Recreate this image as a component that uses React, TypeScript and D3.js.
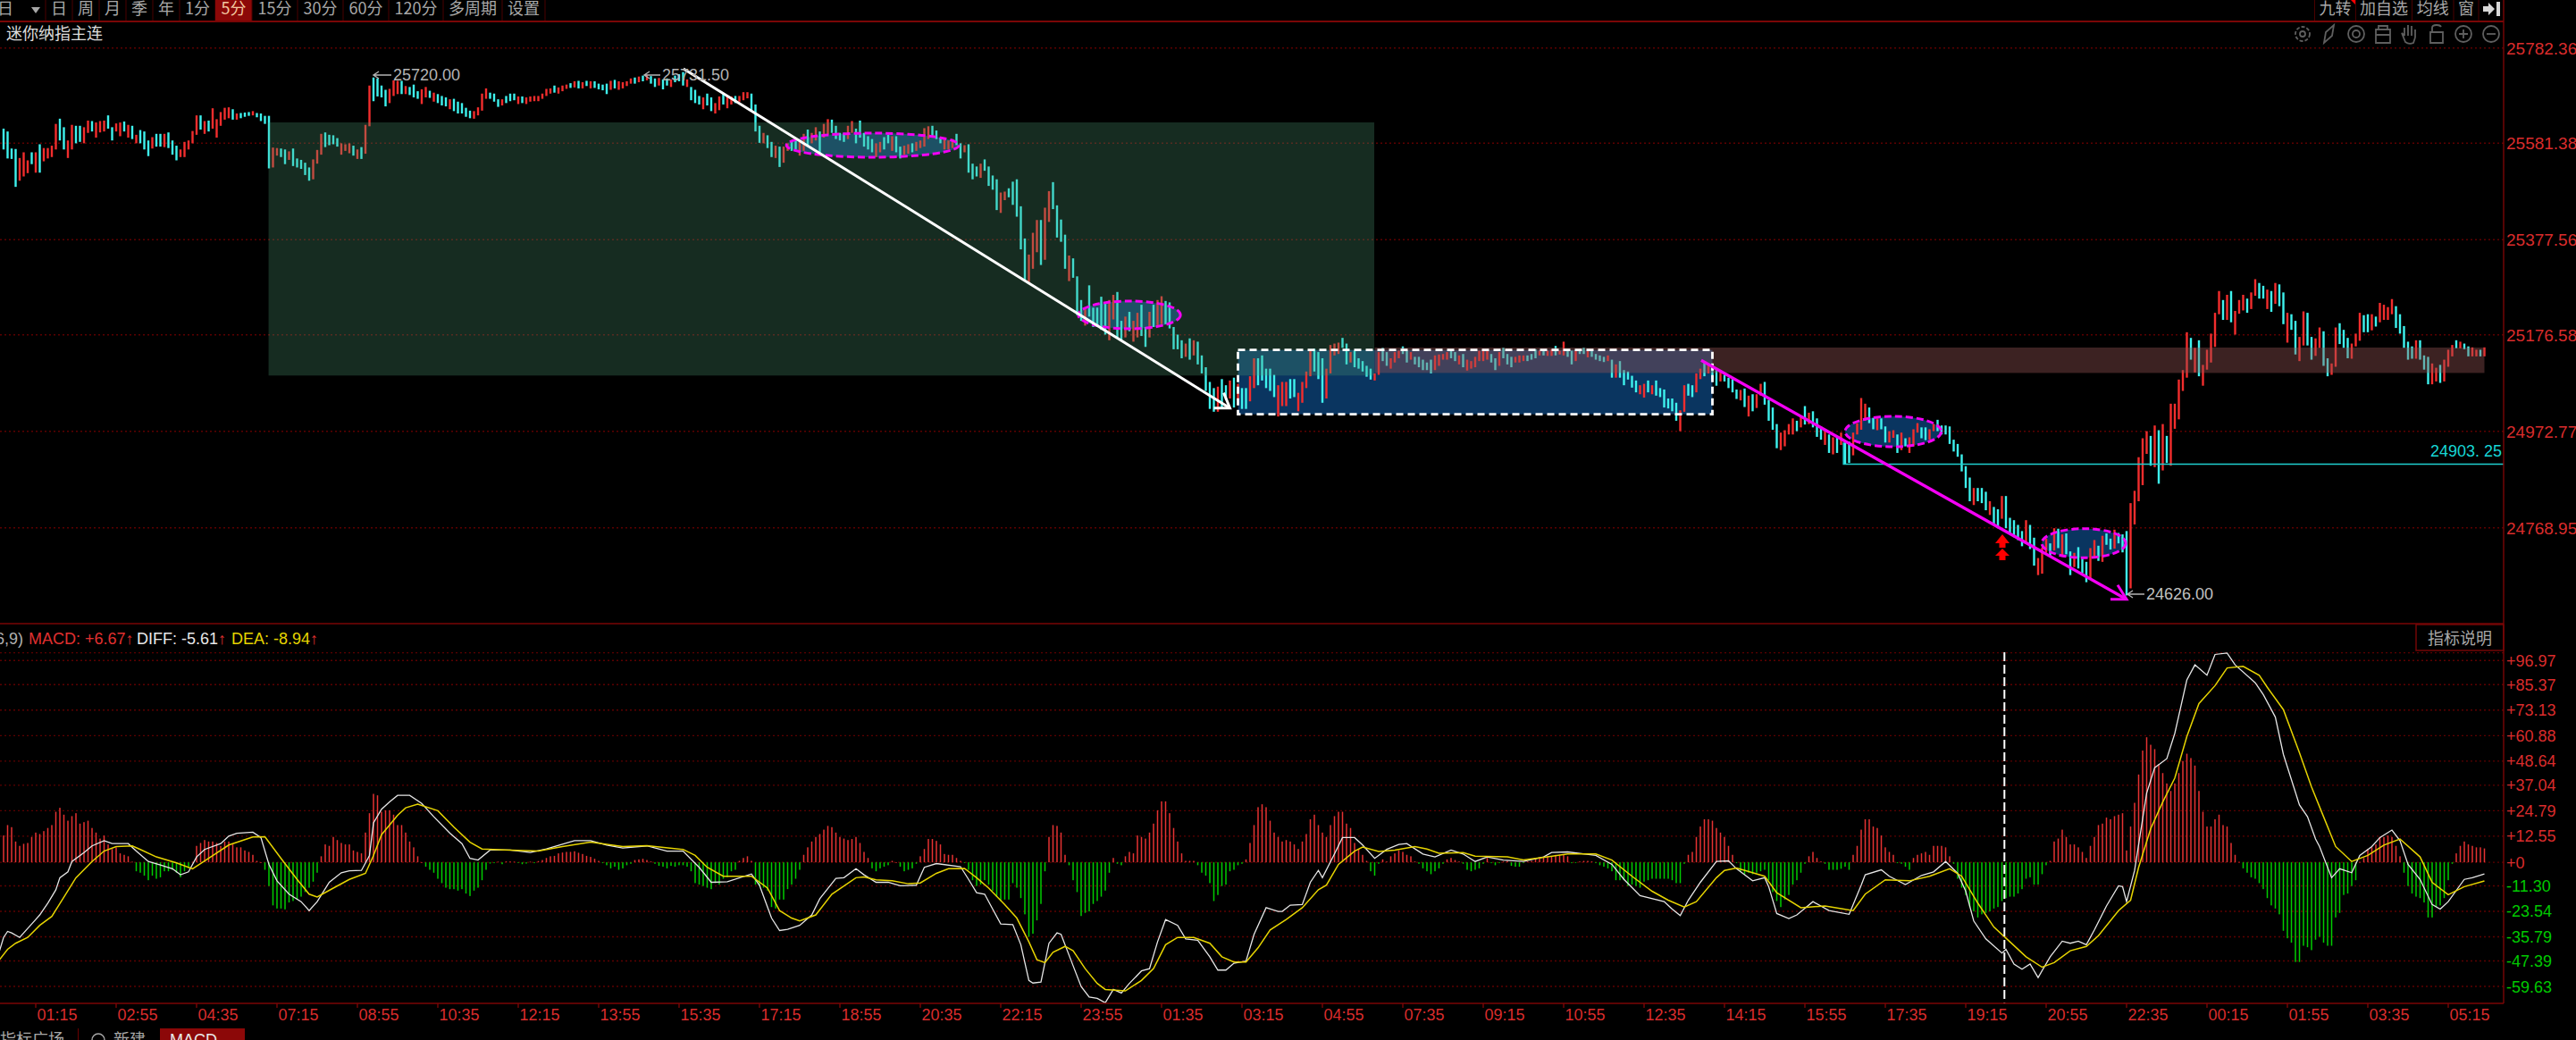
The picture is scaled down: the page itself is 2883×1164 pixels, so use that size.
import React from "react";
import * as d3 from "d3";

// ---------- candle data, index = 5-minute bar ----------
const highs: number[] = [
25612,25606,25570,25569,25550,25562,25545,25562,25562,25579,
25571,25571,25576,25622,25633,25615,25587,25620,25618,25618,
25615,25629,25628,25625,25628,25629,25640,25615,25623,25625,
25627,25620,25618,25599,25609,25606,25587,25594,25601,25601,
25601,25604,25587,25576,25568,25584,25587,25607,25640,25640,
25628,25629,25655,25632,25647,25656,25657,25653,25644,25645,
25646,25647,25649,25645,25644,25639,25639,25572,25571,25570,
25568,25564,25570,25549,25546,25540,25530,25547,25567,25601,
25604,25599,25598,25592,25581,25579,25581,25576,25568,25573,
25620,25703,25720,25718,25703,25694,25696,25714,25713,25713,
25702,25700,25705,25691,25695,25700,25692,25688,25685,25681,
25678,25674,25675,25669,25666,25656,25650,25649,25657,25686,
25697,25688,25686,25674,25674,25681,25686,25686,25680,25680,
25678,25680,25681,25681,25686,25696,25697,25703,25699,25703,
25705,25708,25712,25713,25710,25713,25712,25712,25707,25705,
25707,25713,25715,25712,25710,25712,25718,25720,25722,25724,
25725,25723,25718,25719,25716,25718,25716,25724,25727,25731.5,
25716,25700,25694,25681,25678,25686,25678,25666,25680,25685,
25681,25680,25681,25681,25689,25689,25686,25663,25618,25603,
25598,25584,25576,25574,25574,25581,25587,25587,25587,25601,
25610,25603,25615,25606,25622,25632,25631,25618,25603,25603,
25618,25628,25612,25629,25603,25596,25590,25581,25584,25594,
25599,25596,25596,25574,25576,25579,25581,25584,25587,25613,
25617,25618,25608,25593,25592,25587,25590,25601,25581,25577,
25579,25538,25532,25538,25547,25532,25513,25505,25477,25479,
25486,25500,25505,25448,25380,25346,25392,25419,25419,25445,
25480,25499,25450,25420,25388,25344,25338,25300,25250,25231,
25281,25234,25234,25257,25244,25250,25261,25267,25206,25215,
25225,25206,25223,25240,25193,25225,25240,25250,25258,25248,
25245,25193,25177,25165,25158,25169,25165,25162,25133,25108,
25077,25064,25067,25083,25070,25080,25086,25073,25064,25064,
25089,25127,25127,25133,25105,25105,25092,25070,25077,25077,
25083,25083,25054,25077,25099,25143,25147,25140,25127,25105,
25155,25158,25160,25170,25158,25140,25143,25127,25121,25111,
25105,25095,25140,25149,25140,25127,25140,25143,25152,25143,
25140,25130,25130,25124,25118,25124,25133,25135,25136,25140,
25143,25140,25133,25136,25124,25121,25130,25143,25146,25143,
25136,25127,25140,25149,25136,25130,25130,25133,25133,25133,
25136,25146,25143,25143,25143,25146,25153,25143,25162,25143,
25143,25143,25146,25149,25143,25143,25136,25133,25130,25133,
25124,25114,25121,25102,25099,25090,25080,25070,25073,25080,
25070,25080,25064,25061,25042,25042,25033,25017,25070,25073,
25070,25095,25105,25118,25114,25108,25102,25102,25092,25086,
25083,25061,25060,25063,25048,25051,25051,25073,25077,25039,
25023,24988,24970,24975,24988,25000,24995,25004,25026,25012,
25015,25000,24983,24973,24966,24960,24963,24970,24949,24951,
24970,24990,25043,25031,25023,25001,25000,25000,24983,24973,
24975,24966,24970,24958,24960,24977,24990,24981,24981,24977,
24988,24997,24985,24985,24983,24955,24946,24924,24899,24875,
24853,24853,24853,24845,24825,24813,24808,24836,24836,24790,
24785,24775,24762,24785,24775,24748,24705,24727,24746,24736,
24768,24767,24755,24757,24719,24716,24728,24704,24697,24726,
24743,24731,24752,24757,24746,24765,24758,24755,24762,24821,
24847,24918,24958,24973,24963,24985,24975,24988,24963,25031,
25031,25082,25102,25182,25170,25149,25165,25113,25145,25179,
25223,25269,25250,25261,25269,25227,25250,25261,25253,25266,
25294,25286,25280,25272,25269,25286,25283,25266,25223,25220,
25206,25172,25226,25223,25172,25169,25192,25184,25127,25116,
25192,25201,25187,25170,25158,25179,25223,25218,25220,25220,
25215,25244,25240,25235,25252,25237,25220,25195,25162,25152,
25165,25165,25133,25130,25116,25107,25113,25124,25145,25155,
25165,25162,25158,25152,25150,25145,25145,25150];

const lows: number[] = [
25568,25549,25548,25489,25502,25511,25518,25537,25519,25519,
25543,25549,25552,25568,25587,25568,25550,25568,25581,25584,
25581,25603,25606,25593,25604,25606,25612,25587,25606,25596,
25606,25593,25590,25581,25581,25568,25554,25570,25574,25574,
25573,25571,25557,25545,25552,25552,25568,25581,25599,25610,
25601,25606,25612,25593,25618,25631,25634,25631,25631,25634,
25637,25639,25640,25636,25628,25622,25528,25530,25555,25552,
25537,25546,25533,25530,25527,25514,25502,25505,25538,25557,
25573,25577,25579,25574,25557,25565,25560,25555,25548,25548,
25559,25617,25670,25680,25678,25659,25666,25681,25685,25685,
25685,25683,25678,25675,25664,25678,25677,25669,25666,25661,
25659,25653,25649,25644,25644,25637,25634,25633,25640,25650,
25675,25675,25669,25658,25661,25666,25670,25672,25664,25666,
25664,25669,25670,25670,25675,25681,25686,25688,25686,25691,
25696,25698,25699,25697,25697,25702,25697,25698,25695,25693,
25685,25694,25697,25694,25697,25702,25707,25707,25710,25712,
25714,25707,25700,25703,25695,25703,25700,25710,25712,25703,
25700,25672,25666,25663,25653,25661,25649,25644,25651,25663,
25655,25663,25666,25669,25672,25676,25650,25606,25582,25581,
25571,25552,25550,25531,25540,25565,25565,25568,25555,25565,
25574,25581,25587,25559,25593,25599,25603,25590,25587,25584,
25590,25603,25581,25593,25574,25568,25562,25552,25562,25568,
25581,25565,25562,25549,25557,25559,25562,25565,25571,25574,
25590,25593,25590,25581,25568,25568,25571,25577,25549,25562,
25519,25505,25511,25508,25523,25491,25483,25440,25434,25461,
25467,25451,25426,25357,25291,25288,25316,25351,25324,25335,
25415,25442,25382,25373,25316,25290,25297,25218,25206,25196,
25215,25193,25193,25187,25177,25165,25209,25171,25165,25171,
25184,25162,25171,25174,25151,25171,25193,25193,25199,25199,
25190,25146,25146,25127,25130,25124,25133,25114,25095,25058,
25020,25014,25014,25020,25039,25042,25023,25039,25020,25020,
25036,25064,25070,25080,25064,25058,25045,25004,25026,25026,
25042,25045,25015,25033,25064,25089,25099,25083,25033,25042,
25095,25133,25136,25149,25114,25118,25108,25105,25099,25088,
25082,25080,25092,25121,25111,25105,25118,25127,25136,25118,
25124,25114,25108,25102,25102,25095,25102,25111,25124,25124,
25127,25121,25114,25108,25101,25105,25108,25121,25121,25124,
25118,25102,25111,25127,25114,25108,25118,25118,25121,25121,
25124,25127,25133,25133,25132,25132,25133,25135,25133,25130,
25114,25121,25136,25136,25129,25130,25124,25121,25119,25121,
25086,25086,25086,25070,25082,25065,25055,25051,25044,25055,
25051,25048,25045,25023,25021,25015,24995,24973,25014,25048,
25045,25055,25083,25089,25095,25083,25069,25078,25078,25064,
25055,25041,25038,25024,25004,25015,25022,25048,25029,24995,
24976,24937,24933,24941,24966,24966,24973,24981,24987,24988,
24981,24961,24955,24944,24927,24924,24927,24944,24903.25,24906,
24922,24966,24976,24995,24990,24977,24975,24977,24949,24949,
24959,24927,24933,24941,24927,24941,24970,24958,24954,24955,
24973,24973,24966,24966,24946,24930,24919,24888,24853,24825,
24817,24825,24821,24806,24796,24774,24768,24788,24768,24757,
24749,24743,24730,24740,24724,24689,24669,24672,24716,24708,
24721,24726,24711,24713,24669,24686,24683,24673,24654,24661,
24708,24699,24697,24733,24723,24725,24736,24717,24626,24641,
24776,24825,24859,24925,24900,24897,24862,24890,24906,24900,
24978,24998,25058,25086,25124,25097,25089,25069,25103,25118,
25151,25220,25208,25208,25203,25177,25221,25228,25223,25231,
25259,25253,25253,25231,25225,25242,25237,25199,25160,25187,
25135,25121,25154,25154,25124,25132,25149,25111,25089,25092,
25109,25157,25149,25127,25126,25152,25164,25182,25182,25186,
25194,25203,25208,25208,25220,25191,25179,25149,25124,25126,
25126,25124,25103,25072,25072,25078,25075,25078,25109,25131,
25148,25148,25146,25131,25131,25131,25131,25131];

// r = rising (red), c = falling (cyan); ten bars per group
const directions: string = [
"ccccrrrcrc","rrrrccrrcc","rrcrrrccrr","crcrcccrcc","rcccrrrrrc","rcrrrrrcrc","ccrccccrrc","crcccccrrr","ccccrrrcrc","rrccccrrrc",
"rcccrrcrcc","crcccccrrr","rcccrcccrc","rrrrrrrcrr","rcrcrcrccc","crcrrrrcrc","rccrccrccc","rcccrccrrc","rrcrrrcccr","ccrcrrccrr",
"crrcrrcccc","rrcccccrrc","crccrrcrrr","rcccrrrccr","cccrccccrr","cccccrrrcr","rccccrcccr","cccccrrccr","crrccrcrrc","ccccrcrccc",
"ccrccrcrcc","rrcccccrrr","ccrrrrcccr","rrrccrcccc","crrccrrrcc","rcccccrrrr","ccrcrrrrrr","ccrcccrrrc","ccrcrrcrrc","crccrccccr",
"crcccccrrc","rccccccrrc","crrcrccrcc","ccrcrcrrcc","ccrrrrcrcr","cccrcrcrcc","rrrrccrccr","rcrcrrrccr","rccccccccc","rcccrccrcc",
"cccrccrrrc","rcrccrcccr","rcrccrcccr","rrrrcrcrcr","rrrrcrcrrr","rrcrcrrrcr","rccrcrccrc","crrccrrccr","rcccrrrccr","crrrrccccc",
"rcccrrcrrr","crccrrcr"].join("");

const macdHist: number[] = [
12.9,17.9,16.9,10,7.9,8.9,9.3,12.2,14.3,13.6,
15,16.5,17.9,24.3,26.2,22.9,20,22.2,23.6,18.6,
19.3,20,16.5,14.3,11.4,12.9,8.6,6.4,7.2,4.3,
3.6,2.9,0.3,-4.3,-5,-6.4,-8.6,-6.4,-7.9,-7.2,
-4.3,-4.3,-3.6,-5,-7.2,-4.3,-2.9,0.2,7.9,9.3,
10.7,10,10,9.3,7.9,10,10,8.6,7.2,7.2,
5.7,5,3.6,0.7,0,-3.6,-11.4,-20.7,-22.2,-22.2,
-22.6,-19.3,-18.6,-17.9,-16.5,-14.3,-12.2,-9.3,-5,2.9,
8.6,7.9,12.2,10.7,9.3,8.6,8.6,5.7,5,4.3,
14.3,23.6,32.9,32.2,24.3,25,25,22.9,17.9,17.9,
14.3,10,7.2,2.9,0,-2.1,-3.6,-5,-7.9,-10,
-12.2,-12.9,-12.9,-13.6,-12.9,-15,-16.2,-13.6,-12.2,-8.6,
-3.6,-0.6,-0.4,0.3,-0.9,0.4,0.4,0.3,-0.3,-0.9,
-0.6,0.3,-0.4,0.6,1.1,2.1,2.9,3.1,4.3,4.7,
5,5,5.3,4.6,4,3.1,2.6,1.7,0.7,-0.4,
-1.4,-2.9,-2.1,-3.6,-2.9,-1.4,-0.7,1.1,1.4,1.7,
1.1,0.4,-0.7,-1.7,-2.1,-2.9,-1.7,-2.1,-1.4,-1.4,
-2.1,-4.3,-10,-10.7,-11.4,-12.2,-12.9,-10,-10.7,-7.9,
-7.2,-4.3,-3.6,0.7,2.1,2.9,0.7,-10.7,-11.4,-12.2,
-13.6,-21.5,-22.2,-17.9,-17.9,-12.9,-10.7,-7.9,-3.6,3.6,
7.2,10,12.2,13.6,15.7,17.5,16.9,14.3,12.2,11.4,
10.7,11.2,12.2,9.3,5,2.1,-2.9,-4.3,-2.9,-2.1,
-1.4,0.7,0,-2.1,-4.3,-3.6,-2.9,-0.7,2.9,6.4,
11.2,11.2,10.3,8.6,4,3.6,3.6,2.1,0.7,-0.3,
-3.6,-8.6,-11.4,-10.7,-8.6,-10.7,-13.6,-16.5,-18.6,-17.9,
-17.9,-10,-12.2,-17.2,-25,-35.8,-34.3,-27.9,-20,-4.3,
12.2,17.9,17.5,14.3,3.6,-1.4,-8.6,-14.3,-25.8,-24.3,
-23.6,-20,-18.6,-16.5,-13.6,-5,2.1,-0.7,-1.4,2.9,
5,4.3,12.9,12.2,11.4,14.3,18.6,25,29.3,29.3,
23.6,16.5,10,4.3,0.7,0.7,0.7,-1.4,-5,-6.4,
-10,-18.6,-15.7,-11.4,-10.7,-4.3,-3.6,-1.4,-0.7,1.4,
9.3,17.9,26.5,27.9,26.5,20,14.3,12.2,10,10.7,
10,8.6,6.4,10,13.6,20.7,22.9,17.9,14.3,12.2,
17.9,22.2,24.3,24.3,18.6,16.5,9.3,6.4,3.6,0.7,
-4.3,-6.4,-0.7,1.4,0.4,2.9,4.3,5.7,5,3.6,
2.9,0.4,-0.7,-2.9,-4.3,-5.7,-4.3,-2.9,-0.7,1.4,
2.1,1.1,0.4,-0.7,-3.6,-4.3,-3.6,-2.9,-0.7,2.1,
-0.4,-1.4,-0.4,0.4,0.7,-1.7,-2.1,-2.1,-0.4,0.4,
0.7,1.4,2.1,2.6,2.9,2.9,3.6,3.6,3.6,2.9,
-0.4,-0.3,0.4,0.7,0.7,0.4,-0.4,-1.4,-2.1,-2.9,
-4.3,-8.6,-8.6,-8.6,-11.4,-10.7,-11.4,-12.2,-9.3,-8.6,
-7.9,-7.9,-7.9,-7.9,-7.9,-8.6,-10,-10,-0.7,3.6,
5,12.2,17.2,20.7,20.7,20,16.5,14.3,12.2,7.9,
3.6,-0.4,-4.3,-5.7,-5,-5.7,-5,-4.3,-3.6,-8.6,
-14.3,-18.6,-21.5,-17.9,-15.7,-10.7,-8.6,-5,-0.7,2.9,
5,2.1,0.4,-0.7,-3.6,-3.6,-3.6,-3.1,-2.1,-3.6,
3.6,7.9,15.7,20.7,20.7,17.2,16.5,12.9,7.2,5,
3.6,-0.4,-0.7,-2.1,-3.6,2.1,3.6,4.3,5,3.6,
7.9,7.9,7.9,7.2,2.9,-0.7,-7.9,-12.2,-15.7,-21.5,
-23.6,-26.5,-25,-24.3,-23.6,-22.2,-21.5,-18.6,-17.2,-16.5,
-16.5,-15,-12.9,-7.9,-7.2,-10.7,-10.7,-5.7,-1.4,0.7,
10,11.4,15.7,12.2,8.6,8.6,7.2,5,2.1,7.9,
12.2,17.9,18.6,21.5,20.7,22.2,22.9,23.6,5.7,17.2,
28.6,42.2,53.7,60.1,56.5,54.4,47.2,42.9,37.9,34.3,
37.9,42.9,48.7,52.2,50.1,46.5,34.3,24.3,17.2,17.2,
20.7,22.9,17.9,17.2,9.3,3.6,0.2,-2.9,-5,-7.2,
-7.9,-10,-12.9,-17.2,-20.7,-22.2,-25,-32.9,-36.5,-38.6,
-47.9,-47.9,-40.1,-40.8,-42.2,-37.2,-35.8,-38.6,-40.1,-40.1,
-26.5,-24.3,-15.7,-15,-11.4,-8.6,0.2,2.1,6.4,7.2,
8.6,12.2,12.2,12.9,12.2,7.9,2.9,-5,-11.4,-15,
-16.5,-17.2,-19.3,-26.5,-26.5,-21.5,-20.7,-17.2,-8.6,-0.7,
4.3,7.9,10,8.6,7.9,7.2,7.2,6.67];

// MACD lines: [bar index, value] knots
const diffKnots: [number, number][] = [
[-1,-42.5],[0,-36.1],[1,-33.2],[2,-33.9],[4,-36.1],[6,-31.8],[8,-27.5],[9,-25.3],[11,-19.6],[13,-13.2],[14,-7.4],[16,-4.6],[17,0.4],[20,4.7],[22,7.9],[25,10.4],[27,9],[31,9],[33,5.4],[36,0.4],[39,-1.3],[42,-3.1],[44,-6],[46,-4.6],[48,2.6],[50,6.2],[54,9],[56,12.6],[58,14],[62,14.5],[64,11.9],[66,-1],[68,-8.9],[71,-15.3],[74,-18.9],[76,-23.2],[78,-18.9],[81,-9.6],[84,-5],[86,-4.1],[89,-3.9],[91,3.3],[92,19],[94,25.5],[96,29],[98,32.2],[101,32.2],[104,28.3],[107,21.9],[111,14],[114,9],[116,1.9],[118,1.1],[121,5.9],[126,5.9],[131,4.7],[135,6.4],[142,10.4],[146,10.4],[150,8.3],[154,6.9],[160,7.9],[165,5.4],[169,5.4],[173,-2.4],[176,-9.6],[180,-9.3],[186,-5.6],[188,-11],[191,-26.8],[193,-32.8],[195,-32.2],[198,-30.3],[201,-25.3],[203,-17.5],[207,-7.7],[209,-7.4],[212,-3.1],
[214,-6],[217,-9.6],[220,-9.6],[223,-11.3],[227,-11],[229,-2.4],[232,-0.6],[238,-2.1],[240,-8.2],[242,-14.6],[244,-15.3],[246,-22.5],[248,-29.6],[251,-29.9],[253,-39.6],[255,-56.8],[256,-58],[258,-57.5],[260,-38.9],[262,-33.9],[263,-34.6],[266,-49.7],[268,-59.7],[270,-64.7],[272,-65.4],[274,-67.5],[276,-61.1],[278,-62.8],[280,-58.2],[283,-52.2],[285,-51.1],[287,-38.2],[289,-27.5],[292,-30.3],[294,-36.8],[297,-37.5],[300,-45.4],[302,-51.8],[304,-51.8],[306,-48.5],[309,-47.5],[311,-34.6],[314,-21.8],[317,-23.6],[318,-23.6],[320,-20.6],[323,-20.3],[325,-9.6],[327,-3.9],[328,-7.4],[331,4],[333,11.9],[336,11.9],[338,8.3],[341,1.9],[344,6.2],[347,8.6],[349,9],[353,4],[356,2.6],[360,5.9],[363,4],[366,0.4],[369,2.6],[373,1.1],[378,0.4],[383,2.6],[385,4.7],[389,5],[396,3.3],[400,-1],[403,-8.2],[407,-16],[413,-18.9],[415,-22.5],[417,-25.6],[419,-18.2],[422,-9.6],[426,0.4],
[429,0.7],[431,-3.1],[435,-8.9],[438,-7.4],[439,-11.7],[441,-24.6],[444,-27],[446,-25.3],[450,-18.9],[454,-23.2],[459,-25],[462,-11],[463,-6],[467,-3.6],[469,-6.7],[473,-10.7],[477,-6.3],[480,-4.6],[483,0.4],[486,-5.3],[488,-13.9],[490,-28.2],[493,-36.8],[497,-43.6],[498,-41.8],[500,-48.9],[502,-51.4],[504,-48.9],[506,-55.4],[509,-45.4],[512,-37.9],[514,-38.9],[516,-37.9],[518,-39.6],[520,-32.5],[523,-21],[526,-11.3],[527,-11.7],[528,-18.9],[530,-3.9],[533,33.3],[535,45.5],[538,49.8],[540,62],[543,87.7],[545,94.9],[548,89.9],[550,99.9],[553,100.6],[555,94.9],[560,86.3],[562,80.6],[565,69.8],[567,51.9],[571,27.6],[573,21.9],[575,11.2],[576,7.6],[579,-7.4],[581,-3.1],[584,-5],[586,3.3],[589,7.6],[591,11.9],[594,15.5],[596,10.4],[598,-1],[601,-8.2],[604,-20.3],[606,-22.5],[608,-18.9],[612,-8.2],[614,-7.4],[617,-5.61]];

const deaKnots: [number, number][] = [
[-1,-46.8],[1,-41.8],[3,-38.9],[6,-36.1],[9,-30.3],[12,-26],[15,-16.7],[18,-7.4],[22,0.4],[25,5.4],[28,7.6],[32,7.9],[34,6.2],[38,2.6],[43,-0.3],[47,-3.1],[51,1.9],[56,8.3],[62,12.2],[65,12.3],[69,1.9],[73,-8.2],[76,-15.3],[78,-16.7],[82,-12.4],[86,-8.2],[90,-5.3],[92,3.3],[94,13.3],[98,22.6],[100,26.2],[103,27.9],[108,24.8],[112,16.9],[116,9.7],[119,6.4],[126,5.9],[133,5.4],[139,7.6],[146,9.7],[154,7.6],[160,8],[169,6.2],[172,3.3],[175,-2.4],[179,-6.7],[186,-6.7],[190,-12.4],[193,-23.2],[196,-26.8],[198,-28.2],[202,-25.3],[206,-15.3],[212,-7.4],
[214,-7],[217,-8.4],[221,-8.9],[225,-10.3],[228,-9.9],[232,-5.3],[235,-3.1],[239,-2.9],[242,-7.4],[245,-12.4],[249,-20.3],[252,-26.8],[255,-38.2],[257,-46.8],[259,-48.2],[261,-43.2],[264,-40.4],[266,-42.5],[269,-51.1],[272,-58.2],[274,-61.1],[279,-61.8],[283,-56.8],[286,-51.1],[289,-39.6],[292,-36.1],[296,-36.1],[300,-38.9],[303,-45.4],[306,-47.9],[309,-47.9],[312,-41.1],[315,-32.5],[319,-27.5],[323,-21.8],[327,-13.2],[329,-11],[332,-1],[336,5.4],[338,7.3],[342,5.2],[346,5.9],[351,7.6],[354,6.4],[357,4.4],[363,4.7],[366,3],[374,2.6],[378,1.1],[384,2.6],[389,4],[396,4],[400,1.1],[405,-6.7],[410,-13.9],[414,-18.2],[418,-21.5],[421,-18.9],[426,-7.4],
[428,-3.9],[431,-2.7],[435,-5],[438,-6.7],[441,-14.6],[447,-21.8],[453,-21],[460,-23.2],[463,-15.3],[468,-8.4],[474,-8.9],[479,-6.7],[484,-3.1],[487,-6.7],[491,-19.6],[495,-31.1],[499,-38.2],[503,-45.4],[507,-50.4],[510,-48.2],[514,-42.5],[518,-40.4],[521,-35.3],[526,-23.2],[529,-18.2],[531,-2.4],[534,16.2],[537,29],[540,40.5],[543,60.5],[546,76.3],[550,84.9],[553,93.4],[557,94.2],[561,89.9],[563,84.1],[567,73.4],[571,52.7],[574,36.2],[577,21.9],[580,7.6],[584,0.4],[588,3.3],[592,8.3],[596,11.2],[601,2.6],[604,-9.6],[608,-15.6],[612,-11.7],[617,-8.94]];

// ---------- axis labels ----------
const priceTicks = [25782.36, 25581.38, 25377.56, 25176.58, 24972.77, 24768.95];
const macdTicks = [96.97, 85.37, 73.13, 60.88, 48.64, 37.04, 24.79, 12.55, 0, -11.3, -23.54, -35.79, -47.39, -59.63];
const timeLabels = ["01:15","02:55","04:35","07:15","08:55","10:35","12:15","13:55","15:35","17:15","18:55","20:35","22:15","23:55","01:35","03:15","04:55","07:35","09:15","10:55","12:35","14:15","15:55","17:35","19:15","20:55","22:35","00:15","01:55","03:35","05:15"];

// ---------- annotation zones: bar indexes + prices ----------
const greenZone = { i0: 65.9, i1: 340.9, top: 25625.2, bottom: 25090.5 };
const blueZone = { i0: 307, i1: 425, top: 25144.5, bottom: 25008.6 };
const brownZone = { i0: 341, i1: 617, top: 25149.6, bottom: 25096 };
const ovals = [
  { i0: 194.7, i1: 237.6, top: 25602.5, bottom: 25551.6 },
  { i0: 267.3, i1: 292.7, top: 25247.8, bottom: 25189.3 },
  { i0: 458, i1: 481.9, top: 25004.3, bottom: 24940.1 },
  { i0: 506.9, i1: 527.8, top: 24767.1, bottom: 24705.6 },
];
const whiteArrow = { i0: 169.1, p0: 25738.4, i1: 305, p1: 25021.9 };
const magentaArrow = { i0: 422.2, p0: 25122.6, i1: 528, p1: 24618 };
const levelLine = { i0: 457.6, price: 24903.25 };

const topTabs = [
  { t: "日", a: 51, b: 81 }, { t: "周", a: 81, b: 111 }, { t: "月", a: 111, b: 141 }, { t: "季", a: 141, b: 171 },
  { t: "年", a: 171, b: 201 }, { t: "1分", a: 201, b: 241 }, { t: "5分", a: 241, b: 282, on: true }, { t: "15分", a: 282, b: 333 },
  { t: "30分", a: 333, b: 384 }, { t: "60分", a: 384, b: 435 }, { t: "120分", a: 435, b: 496 }, { t: "多周期", a: 496, b: 562 }, { t: "设置", a: 562, b: 610 },
];
const rightTabs = [
  { t: "九转", a: 2590.5, b: 2636.4 }, { t: "加自选", a: 2636.4, b: 2699.5 }, { t: "均线", a: 2699.5, b: 2746 }, { t: "窗", a: 2746, b: 2774 },
];

// ---------- layout ----------
const W = 2883, H = 1164, AX = 2802, BARW = 2.4;
const CJK = "'Noto Sans CJK SC', sans-serif";
const LAT = "'Liberation Sans', Arial, sans-serif";
const GRID = "#5c0000", AXISC = "#7a0606";
const CY = "#3ef2ee", RD = "#f22d2d";

const x = d3.scaleLinear().domain([0, 617]).range([4, 2780.5]);
const y = d3.scaleLinear().domain([25782.36, 24768.95]).range([53.7, 590.7]);
const my = d3.scaleLinear().domain([96.97, -59.63]).range([739.3, 1104]);
const mline = d3.line<[number, number]>().x((d) => x(d[0])).y((d) => my(d[1])).curve(d3.curveLinear);

function zoneRect(z: { i0: number; i1: number; top: number; bottom: number }) {
  return { x: x(z.i0), y: y(z.top), width: x(z.i1) - x(z.i0), height: y(z.bottom) - y(z.top) };
}
function oval(z: { i0: number; i1: number; top: number; bottom: number }) {
  return { cx: (x(z.i0) + x(z.i1)) / 2, cy: (y(z.top) + y(z.bottom)) / 2, rx: (x(z.i1) - x(z.i0)) / 2, ry: (y(z.bottom) - y(z.top)) / 2 };
}
const wx1 = x(whiteArrow.i1), wy1 = y(whiteArrow.p1);
const mx1 = x(magentaArrow.i1), my1 = y(magentaArrow.p1);

function Icons() {
  const c = "#5f5f5f";
  const p = { fill: "none", stroke: c, strokeWidth: 1.8 };
  return (
    <g>
      <circle cx={2577} cy={38} r={8} {...p} strokeDasharray="4 2" /><circle cx={2577} cy={38} r={3} {...p} />
      <path d="M2601 48 L2603 36 L2612 28 L2610 40 Z" {...p} />
      <circle cx={2637} cy={38} r={9} {...p} /><circle cx={2637} cy={38} r={4} {...p} />
      <path d="M2659 33 H2675 V48 H2659 Z M2662 33 V29 H2672 V33 M2659 39 H2675" {...p} />
      <path d="M2691 40 V31 M2695 40 V28 M2699 40 V29 M2703 42 V33 M2691 40 L2688 37 L2692 47 Q2696 50 2701 48 L2703 42" {...p} />
      <path d="M2720 36 H2734 V48 H2720 Z M2722 36 V31 Q2722 28 2727 28 Q2731 28 2732 30" {...p} />
      <circle cx={2757} cy={38} r={9} {...p} /><path d="M2752 38 H2762 M2757 33 V43" {...p} />
      <circle cx={2788} cy={38} r={9} {...p} /><path d="M2783 38 H2793" {...p} />
    </g>
  );
}

export default function App() {
  return (
    <svg width={W} height={H} viewBox={`0 0 ${W} ${H}`}
      style={{ position: "fixed", left: 0, top: 0, display: "block", background: "#000" }}
      fontFamily={LAT} fontSize={18}>
      <rect x={0} y={0} width={W} height={H} fill="#000" />

      {/* grids */}
      {priceTicks.map((p) => (
        <line key={p} x1={0} x2={AX} y1={y(p)} y2={y(p)} stroke={GRID} strokeWidth={1.4} strokeDasharray="2 3" />
      ))}
      {[100.7, ...macdTicks].map((v) => (
        <line key={v} x1={0} x2={AX} y1={my(v)} y2={my(v)} stroke={GRID} strokeWidth={1.4} strokeDasharray="2 3" />
      ))}

      {/* blue fills sit under the candles */}
      <rect {...zoneRect(blueZone)} fill="#0a3560" />
      {ovals.map((o, i) => <ellipse key={i} {...oval(o)} fill="#0a3560" />)}

      {/* candles */}
      {highs.map((h, i) => (
        <rect key={i} x={x(i) - BARW / 2} y={y(h)} width={BARW} height={Math.max(1, y(lows[i]) - y(h))}
          fill={directions[i] === "r" ? RD : CY} />
      ))}

      {/* translucent zones over the candles */}
      <rect {...zoneRect(greenZone)} fill="#4b9670" fillOpacity={0.29} />
      <rect {...zoneRect(brownZone)} fill="#965555" fillOpacity={0.4} />

      {/* level line */}
      <path d={`M${x(levelLine.i0)} ${y(24949)} V${y(levelLine.price)} H${AX}`} fill="none" stroke="#1fd0d0" strokeWidth={1.6} />
      <text x={AX - 2} y={511} textAnchor="end" fill="#17d6d6">24903. 25</text>

      {/* dashed annotations */}
      {ovals.map((o, i) => <ellipse key={i} {...oval(o)} fill="none" stroke="#f400f4" strokeWidth={3} strokeDasharray="8 4" />)}
      <rect {...zoneRect(blueZone)} fill="none" stroke="#fff" strokeWidth={2.8} strokeDasharray="8 5" />

      {/* arrows */}
      <line x1={x(whiteArrow.i0)} y1={y(whiteArrow.p0)} x2={wx1} y2={wy1} stroke="#fff" strokeWidth={3} />
      <path d={`M${wx1 - 18} ${wy1} H${wx1} L${wx1 - 7} ${wy1 - 17}`} fill="none" stroke="#fff" strokeWidth={3} />
      <line x1={x(magentaArrow.i0)} y1={y(magentaArrow.p0)} x2={mx1} y2={my1} stroke="#f400f4" strokeWidth={3.4} />
      <path d={`M${mx1 - 18} ${my1} H${mx1} L${mx1 - 10} ${my1 - 16}`} fill="none" stroke="#f400f4" strokeWidth={3} />

      {/* red signal arrows */}
      <path d="M2241 598 L2249 608 H2244.5 V613 H2237.5 V608 H2233 Z M2241 614 L2249 622 H2244.5 V627 H2237.5 V622 H2233 Z" fill="#f00" />

      {/* price callouts */}
      <g fill="#b4b4b4">
        <text x={440} y={90}>25720.00</text>
        <text x={741} y={90}>25731.50</text>
        <text x={2402} y={671} fill="#c0c0c0">24626.00</text>
      </g>
      <g stroke="#b4b4b4" strokeWidth={1.4} fill="none">
        <path d="M438 84 H418 M424 80 L418 84 L424 88" />
        <path d="M739 84 H721 M727 80 L721 84 L727 88" />
        <path d="M2400 665 H2381 M2387 661 L2381 665 L2387 669" />
      </g>

      {/* MACD histogram */}
      {macdHist.map((v, i) => (
        <rect key={i} x={x(i) - 0.75} width={1.5} y={v >= 0 ? my(v) : my(0)} height={Math.max(0.8, Math.abs(my(v) - my(0)))}
          fill={v >= 0 ? "#e53232" : "#00cc00"} />
      ))}
      <path d={mline(diffKnots) ?? ""} fill="none" stroke="#e6e6e6" strokeWidth={1.3} />
      <path d={mline(deaKnots) ?? ""} fill="none" stroke="#e6d400" strokeWidth={1.5} />
      <line x1={2243.3} x2={2243.3} y1={730} y2={1123} stroke="#fff" strokeWidth={2} strokeDasharray="10 4" />

      {/* frames */}
      <line x1={0} x2={AX} y1={24} y2={24} stroke={AXISC} strokeWidth={2} />
      <line x1={0} x2={AX} y1={698} y2={698} stroke={AXISC} strokeWidth={1.6} />
      <line x1={0} x2={AX} y1={1123} y2={1123} stroke={AXISC} strokeWidth={1.6} />
      <line x1={AX} x2={AX} y1={0} y2={1123} stroke={AXISC} strokeWidth={1.4} />

      {/* axes */}
      {priceTicks.map((p) => (
        <text key={p} x={2805} y={y(p) + 7} fill="#d92c2c" fontSize={19}>{p.toFixed(2)}</text>
      ))}
      {macdTicks.map((v) => (
        <text key={v} x={2805} y={my(v) + 6.5} fill={v >= 0 ? "#d92c2c" : "#00c800"}>
          {v === 0 ? "+0" : (v > 0 ? "+" : "") + v.toFixed(2)}
        </text>
      ))}
      {timeLabels.map((t, k) => {
        const tx = x(8 + 20 * k);
        return (
          <g key={k + t}>
            <line x1={tx} x2={tx} y1={1123} y2={1128} stroke={AXISC} strokeWidth={1.4} />
            <text x={tx + 1.5} y={1141.5} fill="#d92c2c">{t}</text>
          </g>
        );
      })}

      {/* MACD legend */}
      <text x={26} y={720.5} textAnchor="end" fill="#b0b0b0">(12,26,9)</text>
      <text x={32} y={720.5} fill="#e03030">MACD: +6.67↑</text>
      <text x={153} y={720.5} fill="#e8e8e8">DIFF: -5.61<tspan fill="#e03030">↑</tspan></text>
      <text x={259} y={720.5} fill="#e6d400">DEA: -8.94<tspan fill="#e03030">↑</tspan></text>

      {/* toolbars */}
      <g fontFamily={CJK} fontSize={18}>
        <text x={-3} y={15.5} fill="#a8a8a8">日</text>
        <path d="M35 8 H45 L40 15 Z" fill="#a8a8a8" />
        <line x1={51} x2={51} y1={0} y2={23} stroke="#4a0000" />
        {topTabs.map((tab) => (
          <g key={tab.t}>
            {tab.on && <rect x={tab.a} y={0} width={tab.b - tab.a} height={23} fill="#8c0808" />}
            <line x1={tab.b} x2={tab.b} y1={0} y2={23} stroke="#4a0000" />
            <text x={(tab.a + tab.b) / 2} y={15.5} textAnchor="middle" fill={tab.on ? "#f3c7a0" : "#a8a8a8"}>{tab.t}</text>
          </g>
        ))}
        {rightTabs.map((tab) => (
          <g key={tab.t}>
            <line x1={tab.a} x2={tab.a} y1={0} y2={23} stroke="#4a0000" />
            <text x={(tab.a + tab.b) / 2} y={15.5} textAnchor="middle" fill="#a8a8a8">{tab.t}</text>
          </g>
        ))}
        <line x1={2774} x2={2774} y1={0} y2={23} stroke="#4a0000" />
        <path d="M2631 0 H2636 V5 Z" fill="#f00" />
        <path d="M2779 7 H2785 V3 L2792 10 L2785 17 V13 H2779 Z M2794 2 H2798 V18 H2794 Z" fill="#d8d8d8" />
        <text x={7} y={44} fill="#dddddd">迷你纳指主连</text>
        <rect x={2704} y={699} width={98} height={29} fill="none" stroke={AXISC} strokeWidth={1.4} />
        <text x={2753} y={720.5} textAnchor="middle" fill="#a8a8a8">指标说明</text>
        {/* bottom tabs */}
        <line x1={87.5} x2={87.5} y1={1151} y2={1164} stroke="#6a0000" />
        <text x={0} y={1170} fill="#a8a8a8">指标广场</text>
        <circle cx={110} cy={1164} r={7} fill="none" stroke="#a8a8a8" strokeWidth={1.4} />
        <text x={127} y={1170} fill="#a8a8a8">新建</text>
        <rect x={179} y={1151} width={95} height={13} fill="#8c0808" />
      </g>
      <text x={190} y={1169.5} fill="#e8e8e8" fontSize={18}>MACD</text>

      <Icons />
    </svg>
  );
}
